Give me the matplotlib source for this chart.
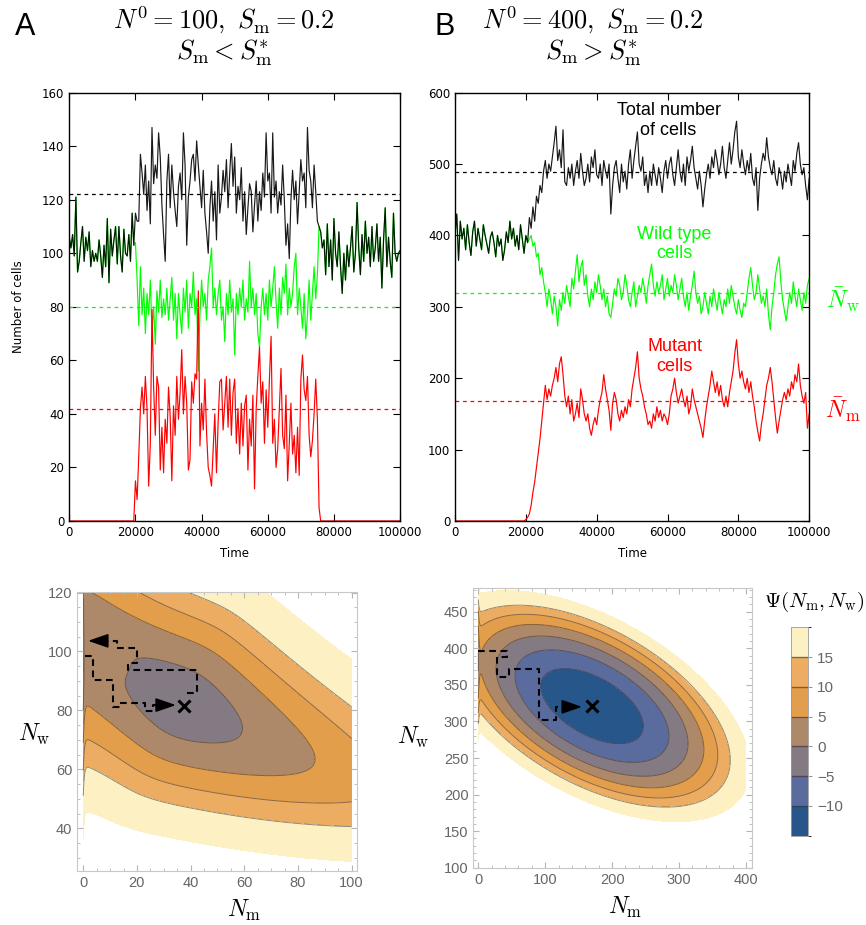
import matplotlib

matplotlib.use("Agg")
import matplotlib.pyplot as plt
import numpy as np
from matplotlib.colors import ListedColormap, BoundaryNorm
import matplotlib.colorbar as mcolorbar

plt.rcParams["font.family"] = ["DejaVu Sans"]
plt.rcParams["mathtext.fontset"] = "cm"

# ---------------- time series, sampled every 500 time units ----------------
t_step = 500

# panel A: N0 = 100 (wild type only before 20000 and after 75500)
a_pre = [106, 102, 107, 99, 121, 93, 97, 104, 110, 97, 106, 101, 108, 95, 101, 97,
         100, 97, 105, 99, 91, 103, 95, 113, 89, 109, 99, 105, 110, 96, 110, 99,
         93, 109, 100, 99, 107, 97, 115, 103]
a_total_mid = [115, 112, 112, 137, 130, 122, 133, 116, 127, 111, 147, 126, 133, 128, 145, 136,
               118, 107, 97, 127, 137, 117, 133, 123, 116, 110, 125, 130, 120, 145, 133, 103,
               121, 127, 135, 137, 127, 142, 133, 125, 117, 131, 115, 108, 100, 117, 127, 112,
               123, 105, 133, 115, 121, 131, 123, 135, 117, 130, 141, 125, 136, 115, 125, 120,
               132, 112, 123, 107, 117, 126, 123, 108, 118, 127, 112, 123, 116, 130, 121, 145,
               127, 130, 115, 145, 121, 127, 115, 123, 118, 133, 120, 103, 111, 98, 120, 131,
               120, 127, 111, 123, 135, 127, 130, 117, 147, 131, 127, 117, 133, 123, 112]
a_wild_mid = [104, 90, 73, 95, 77, 87, 70, 85, 77, 90, 71, 80, 66, 86, 78, 90,
              76, 83, 77, 87, 75, 83, 91, 75, 85, 68, 85, 77, 70, 87, 78, 90,
              72, 85, 80, 93, 77, 83, 56, 77, 90, 80, 85, 75, 90, 95, 102, 80,
              87, 77, 85, 90, 75, 80, 67, 85, 77, 90, 78, 83, 62, 85, 77, 87,
              80, 90, 75, 83, 78, 97, 80, 87, 77, 85, 70, 65, 80, 87, 77, 85,
              75, 90, 80, 87, 95, 82, 72, 87, 77, 91, 85, 96, 77, 87, 80, 85,
              95, 100, 77, 87, 80, 72, 85, 68, 77, 90, 75, 85, 95, 83, 92]
a_mut_mid = [15, 8, 24, 42, 50, 40, 54, 42, 13, 29, 79, 50, 32, 54, 50, 19,
             35, 18, 38, 29, 50, 39, 15, 43, 32, 54, 38, 48, 64, 40, 54, 44,
             19, 23, 52, 44, 55, 53, 86, 28, 44, 34, 53, 33, 20, 17, 13, 27,
             40, 18, 37, 52, 53, 34, 44, 54, 35, 53, 32, 48, 53, 29, 42, 25,
             44, 28, 43, 47, 19, 38, 28, 47, 12, 42, 54, 65, 44, 52, 29, 49,
             35, 53, 69, 29, 38, 20, 27, 42, 57, 32, 27, 47, 15, 29, 44, 25,
             32, 18, 35, 17, 53, 62, 49, 45, 54, 32, 24, 30, 40, 53, 38]
a_post = [110, 108, 102, 105, 92, 111, 95, 105, 90, 113, 100, 95, 108, 95, 85, 100,
          90, 103, 95, 102, 110, 93, 100, 119, 102, 92, 107, 97, 112, 100, 106, 95,
          110, 97, 102, 111, 97, 106, 87, 105, 117, 95, 106, 97, 91, 115, 100, 97,
          100, 101]
a_mut_post = [5] + [0] * 49
a_means = [122, 80, 42]  # total, wild type, mutant

# panel B: N0 = 400
b_pre = [400, 430, 365, 420, 395, 410, 380, 415, 390, 372, 405, 420, 385, 410, 395, 380,
         415, 400, 388, 375, 398, 405, 390, 370, 400, 385, 395, 365, 380, 405, 390, 420,
         395, 410, 385, 400, 380, 415, 395, 375, 400, 390]
b_mut_pre = [0] * 39 + [0, 2, 5]
b_total_mid = [425, 410, 440, 420, 455, 445, 470, 460, 490, 505, 480, 500, 490, 510, 530, 553,
               505, 520, 495, 548, 475, 470, 495, 480, 500, 470, 490, 505, 480, 515, 490, 470,
               480, 500, 475, 510, 495, 520, 485, 480, 500, 470, 505, 490, 480, 500, 430, 470,
               495, 505, 480, 460, 500, 475, 490, 465, 500, 520, 480, 505, 525, 545, 500, 490,
               510, 470, 485, 460, 490, 470, 500, 485, 470, 495, 480, 460, 490, 505, 480, 500,
               510, 485, 470, 495, 520, 490, 475, 500, 470, 510, 490, 505, 525, 495, 480, 465,
               490, 470, 440, 465, 485, 500, 480, 510, 495, 520, 505, 485, 500, 525, 495, 480,
               505, 530, 500, 520, 545, 560, 510, 495, 520, 500, 485, 505, 490, 515, 480, 470,
               495, 435, 480, 500, 515, 505, 537, 510, 495, 485, 505, 480, 470, 495, 485, 465,
               490, 475, 500, 485, 470, 505, 490, 515, 530, 500, 485, 495, 470, 450, 480]
b_wild_mid = [395, 400, 385, 390, 370, 375, 345, 355, 335, 320, 300, 325, 310, 290, 315, 300,
              273, 310, 295, 320, 305, 330, 315, 300, 340, 325, 350, 373, 335, 355, 365, 330,
              345, 315, 300, 325, 310, 335, 320, 345, 330, 310, 325, 300, 315, 290, 285, 305,
              325, 315, 340, 330, 310, 320, 345, 330, 310, 300, 320, 335, 300, 315, 330, 320,
              340, 325, 305, 330, 345, 360, 330, 315, 335, 320, 330, 345, 310, 325, 340, 315,
              330, 320, 345, 330, 310, 325, 340, 315, 300, 320, 295, 315, 330, 350, 320, 305,
              315, 290, 300, 320, 305, 290, 315, 300, 325, 310, 295, 320, 305, 290, 310, 300,
              325, 305, 330, 315, 300, 290, 310, 295, 285, 305, 300, 320, 340, 355, 330, 310,
              320, 345, 325, 305, 315, 300, 325, 290, 268, 300, 320, 345, 360, 370, 335, 310,
              295, 280, 300, 320, 305, 335, 315, 300, 325, 310, 295, 320, 305, 330, 340]
b_mut_mid = [10, 22, 40, 55, 75, 95, 115, 140, 165, 190, 170, 185, 175, 190, 200, 215,
             195, 220, 230, 205, 175, 160, 175, 150, 170, 140, 150, 165, 145, 185, 170, 150,
             140, 150, 130, 120, 135, 145, 135, 155, 170, 180, 205, 185, 170, 155, 127, 165,
             180, 170, 150, 140, 155, 145, 160, 150, 170, 160, 185, 200, 215, 237, 200, 185,
             175, 160, 150, 135, 140, 130, 150, 140, 160, 145, 155, 140, 150, 145, 135, 150,
             175, 185, 200, 180, 165, 175, 185, 170, 160, 175, 150, 160, 185, 170, 160, 150,
             140, 130, 117, 140, 160, 175, 190, 210, 195, 180, 195, 175, 190, 170, 160, 175,
             160, 180, 195, 210, 235, 254, 220, 200, 210, 195, 185, 200, 180, 195, 175, 160,
             140, 125, 112, 135, 150, 170, 190, 200, 215, 195, 170, 145, 123, 140, 155, 170,
             180, 170, 185, 175, 195, 185, 205, 195, 220, 190, 175, 165, 180, 130, 150]
b_means = [489, 320, 168]

# ---------------- quasi-potential Psi(Nm, Nw) ----------------
# centre Nm, centre Nw, valley slope, Psi min, along curvature, along scale,
# across curvature below / above the valley, across scale, bend (upper-left, lower-right),
# flat valley width and length at Nm=0, Nm=0 dip and its length, top of the filled range
a_psi = [37.5, 82.0, -0.49, -2.8, 0.009, 10.0, 0.0283, 0.0249, 15.0, 0.003, 0.0012,
         8.0, 15.0, 6.0, 0.4, 24.0]
b_psi = [170.0, 321.0, -0.49, -14.0, 5.8e-4, 2000.0, 2.5e-3, 2.5e-3, 2000.0, 0.0, 0.0,
         0.0, 15.0, 6.0, 1.2, 24.0]
psi_levels = [-15, -10, -5, 0, 5, 10, 15, 20]
psi_colors = ["#27568a", "#5a6b9d", "#837a84", "#ad8969", "#e39e4b", "#ecad62", "#fdf1c4"]

# stochastic paths drawn on the maps
a_star = [37.7, 81.5]
a_in_nm = [0.6, 3.7, 3.7, 11.2, 11.2, 13.7, 13.7, 23.0, 23.0, 26.1, 26.1, 28.5]
a_in_nw = [98.5, 98.5, 90.4, 90.4, 81.2, 81.2, 82.6, 82.6, 79.8, 79.8, 81.8, 81.8]
a_out_nm = [38.5, 42.3, 42.3, 16.8, 16.8, 19.9, 19.9, 12.4, 12.4, 8.0]
a_out_nw = [85.9, 85.9, 93.8, 93.8, 96.2, 96.2, 101.1, 101.1, 103.6, 103.6]
b_star = [169.5, 321.0]
b_in_nm = [0.0, 42.4, 42.4, 28.4, 28.4, 46.3, 46.3, 91.2, 91.2, 116.0, 116.0, 130.0]
b_in_nw = [396.0, 396.0, 387.6, 387.6, 361.0, 361.0, 371.6, 371.6, 302.0, 302.0, 320.0, 320.0]


def psi_surface(nm, nw, p):
    (cx, cy, slope, psi_min, ku, lu, kv_lo, kv_hi, lv, bend_l, bend_r,
     flat_w, flat_len, dip, dip_len, _top) = p
    ang = np.arctan(slope)
    dx, dy = nm - cx, nw - cy
    u = dx * np.cos(ang) + dy * np.sin(ang)
    v = -dx * np.sin(ang) + dy * np.cos(ang)
    v = v - np.where(u < 0, bend_l, bend_r) * u ** 2
    v0 = flat_w * np.exp(-nm / flat_len) + 1e-9
    v = v - v0 * np.tanh(v / v0)
    kv = np.where(v < 0, kv_lo, kv_hi)
    along = 2 * ku * lu ** 2 * (np.sqrt(1 + (u / lu) ** 2) - 1)
    across = 2 * kv * lv ** 2 * (np.sqrt(1 + (v / lv) ** 2) - 1)
    return psi_min + along + across - dip * np.exp(-nm / dip_len)


def series(*parts):
    vals = np.concatenate([np.asarray(p, dtype=float) for p in parts])
    return np.arange(len(vals)) * t_step, vals


def style_timeseries(ax, ymax, ystep):
    ax.set_xlim(0, 100000)
    ax.set_ylim(0, ymax)
    ax.set_xticks(np.arange(0, 100001, 20000))
    ax.set_yticks(np.arange(0, ymax + 1, ystep))
    ax.tick_params(direction="in", top=True, right=True, length=5, width=0.8, labelsize=8.5)
    for s in ax.spines.values():
        s.set_linewidth(1.0)
    ax.set_xlabel("Time", fontsize=8.5, labelpad=6)


def draw_timeseries(ax, total, wild, mut, means):
    t, w = wild
    ax.plot(t, w, color="#00ff00", lw=0.85)
    t, tot = total
    ax.plot(t, tot, color="black", lw=0.85, alpha=0.9)
    t, m = mut
    ax.plot(t, m, color="#ff0000", lw=0.85)
    for val, col in zip(means, ["black", "#00ff00", "#ff0000"]):
        ax.axhline(val, color=col, lw=0.9, ls=(0, (3, 3)))


def style_map(ax, xlim, ylim, xticks, yticks):
    ax.set_xlim(*xlim)
    ax.set_ylim(*ylim)
    ax.set_xticks(xticks)
    ax.set_yticks(yticks)
    ax.minorticks_on()
    ax.tick_params(which="both", direction="in", top=True, right=True, color="#b5b5b5",
                   labelcolor="#666666", labelsize=10.5)
    ax.tick_params(which="major", length=4)
    ax.tick_params(which="minor", length=2)
    for lab in ax.get_xticklabels() + ax.get_yticklabels():
        lab.set_fontfamily("Liberation Sans")
    for s in ax.spines.values():
        s.set_color("#c8c8c8")
        s.set_linewidth(0.8)


def draw_map(ax, nm, nw, p):
    NM, NW = np.meshgrid(nm, nw)
    Z = psi_surface(NM, NW, p)
    ax.contourf(NM, NW, Z, levels=psi_levels[:-1] + [p[-1]], colors=psi_colors)
    ax.contour(NM, NW, Z, levels=psi_levels[1:-1], colors="#3a3030", linewidths=0.7,
               alpha=0.55, linestyles="solid")


def draw_path(ax, xs, ys, head_to):
    ax.plot(xs, ys, color="black", lw=1.5, ls=(0, (3.2, 2.2)))
    ax.annotate("", xy=head_to, xytext=(xs[-1], ys[-1]),
                arrowprops=dict(arrowstyle="-|>,head_length=0.95,head_width=0.33",
                                color="black", lw=1.2, shrinkA=0, shrinkB=0, mutation_scale=13))


fig = plt.figure(figsize=(8.66, 9.25), dpi=100)

# ---------------- top row ----------------
ax_a = fig.add_axes([0.080, 0.4368, 0.382, 0.463])
draw_timeseries(ax_a, series(a_pre, a_total_mid, a_post), series(a_pre, a_wild_mid, a_post),
                series([0] * len(a_pre), a_mut_mid, a_mut_post), a_means)
style_timeseries(ax_a, 160, 20)
ax_a.set_ylabel("Number of cells", fontsize=8.5, labelpad=12)

ax_b = fig.add_axes([0.5254, 0.4368, 0.409, 0.463])
draw_timeseries(ax_b, series(b_pre, b_total_mid), series(b_pre, b_wild_mid),
                series(b_mut_pre, b_mut_mid), b_means)
style_timeseries(ax_b, 600, 100)
ax_b.text(60300, 561, "Total number\nof cells", ha="center", va="center", fontsize=13,
          family="Liberation Sans", color="black", linespacing=1.2)
ax_b.text(62000, 388, "Wild type\ncells", ha="center", va="center", fontsize=13,
          family="Liberation Sans", color="#00ff00", linespacing=1.2)
ax_b.text(62000, 230, "Mutant\ncells", ha="center", va="center", fontsize=13,
          family="Liberation Sans", color="#ff0000", linespacing=1.2)
fig.text(843 / 866, 1 - 300 / 925, r"$\bar{N}_\mathrm{w}$", color="#00ff00", fontsize=17,
         ha="center", va="center")
fig.text(843 / 866, 1 - 410 / 925, r"$\bar{N}_\mathrm{m}$", color="#ff0000", fontsize=17,
         ha="center", va="center")

# titles and panel letters
fig.text(25 / 866, 1 - 27 / 925, "A", fontsize=22, family="Liberation Sans", ha="center", va="center")
fig.text(445 / 866, 1 - 27 / 925, "B", fontsize=22, family="Liberation Sans", ha="center", va="center")
fig.text(224 / 866, 1 - 20 / 925, r"$N^0=100,\ S_\mathrm{m}=0.2$", fontsize=19, ha="center", va="center")
fig.text(224 / 866, 1 - 53 / 925, r"$S_\mathrm{m}<S_\mathrm{m}^{*}$", fontsize=19, ha="center", va="center")
fig.text(593 / 866, 1 - 20 / 925, r"$N^0=400,\ S_\mathrm{m}=0.2$", fontsize=19, ha="center", va="center")
fig.text(593 / 866, 1 - 53 / 925, r"$S_\mathrm{m}>S_\mathrm{m}^{*}$", fontsize=19, ha="center", va="center")

# ---------------- bottom row ----------------
ax_c = fig.add_axes([0.0893, 0.0584, 0.3233, 0.302])
draw_map(ax_c, np.linspace(0, 100, 1001), np.linspace(25.5, 120.3, 500), a_psi)
draw_path(ax_c, a_in_nm, a_in_nw, (34.5, a_in_nw[-1]))
draw_path(ax_c, a_out_nm, a_out_nw, (1.8, a_out_nw[-1]))
ax_c.plot(*a_star, marker="x", ms=9, mew=2.2, color="black")
style_map(ax_c, (-2.2, 102.1), (25.5, 120.3), np.arange(0, 101, 20), np.arange(40, 121, 20))
ax_c.set_xlabel(r"$N_\mathrm{m}$", fontsize=17)
ax_c.xaxis.set_label_coords(0.595, -0.097)
ax_c.set_ylabel(r"$N_\mathrm{w}$", fontsize=17, rotation=0, ha="center", va="center")
ax_c.yaxis.set_label_coords(-0.154, 0.487)

ax_d = fig.add_axes([0.5465, 0.0619, 0.3215, 0.302])
draw_map(ax_d, np.linspace(0, 400, 1601), np.linspace(100, 482, 600), b_psi)
draw_path(ax_d, b_in_nm, b_in_nw, (155, b_in_nw[-1]))
ax_d.plot(*b_star, marker="x", ms=9, mew=2.2, color="black")
style_map(ax_d, (-7.5, 408.6), (100, 482), np.arange(0, 401, 100), np.arange(100, 451, 50))
ax_d.set_xlabel(r"$N_\mathrm{m}$", fontsize=17)
ax_d.xaxis.set_label_coords(0.545, -0.098)
ax_d.set_ylabel(r"$N_\mathrm{w}$", fontsize=17, rotation=0, ha="center", va="center")
ax_d.yaxis.set_label_coords(-0.217, 0.468)

# colour key
cax = fig.add_axes([0.913, 0.0965, 0.0203, 0.2253])
cb = mcolorbar.ColorbarBase(cax, cmap=ListedColormap(psi_colors),
                            norm=BoundaryNorm(psi_levels, len(psi_colors)),
                            boundaries=psi_levels, spacing="proportional")
cb.set_ticks(psi_levels[1:-1])
cb.set_ticklabels(["\u221210", "\u22125", "0", "5", "10", "15"])
cax.tick_params(length=3, color="#999999", labelcolor="#666666", labelsize=11)
for lab in cax.get_yticklabels():
    lab.set_fontfamily("Liberation Sans")
cb.outline.set_edgecolor("#999999")
cb.outline.set_linewidth(0.6)
for lev in psi_levels[1:-1]:
    cax.axhline(lev, color="#3a3030", lw=1.0, alpha=0.6)
fig.text(814 / 866, 1 - 602 / 925, r"$\Psi(N_\mathrm{m},N_\mathrm{w})$", fontsize=15,
         ha="center", va="center")

fig.savefig("out.png", dpi=100, facecolor="white")
